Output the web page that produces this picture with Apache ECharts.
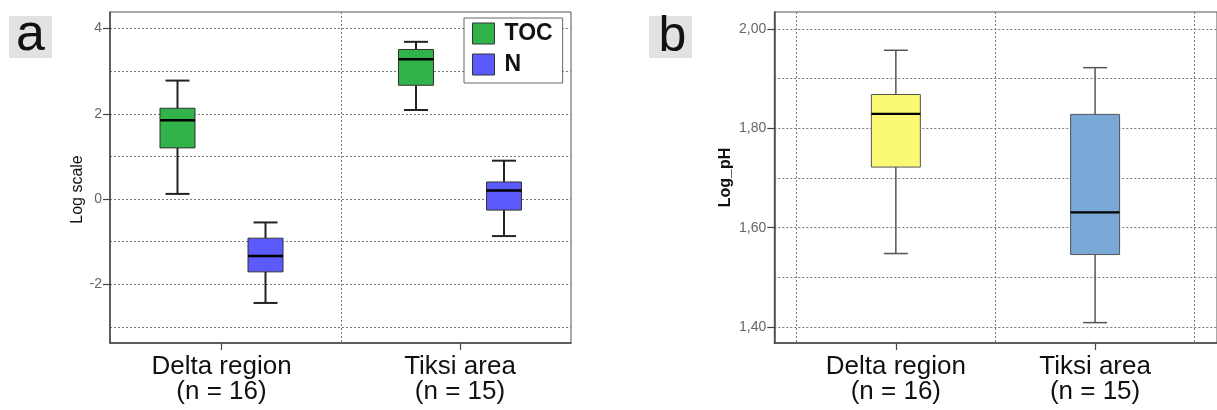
<!DOCTYPE html>
<html>
<head>
<meta charset="utf-8">
<script src="https://cdn.jsdelivr.net/npm/echarts@6/dist/echarts.min.js"></script>
<style>
  html, body { margin: 0; padding: 0; background: #fff; }
  #chart { width: 1217px; height: 410px; }
</style>
</head>
<body>
<div id="chart"></div>
<script>
// Sample groups shown on both panels
const regions = ['Delta region\n(n = 16)', 'Tiksi area\n(n = 15)'];

// Box statistics per region: [lower whisker, Q1, median, Q3, upper whisker]
const tocStats = [
  [0.12, 1.20, 1.85, 2.13, 2.78],
  [2.09, 2.67, 3.28, 3.51, 3.69]
];
const nStats = [
  [-2.44, -1.71, -1.34, -0.92, -0.55],
  [-0.87, -0.26, 0.20, 0.40, 0.90]
];
const phStats = [
  [1.548, 1.722, 1.829, 1.868, 1.957],
  [1.409, 1.546, 1.631, 1.828, 1.922]
];

// Axis ticks and grid lines
const scaleTicks = [-2, 0, 2, 4];
const scaleMinorLines = [-3, -1, 1, 3];
const phTicks = [1.4, 1.6, 1.8, 2.0];
const phMinorLines = [1.5, 1.7, 1.9];
const regionTicks = [1, 2];

const FONT = 'Liberation Sans, Arial, sans-serif';
const DOT = { color: '#7a7a7a', width: 1, type: [2, 2] };

const toRows = stats => stats.map((s, i) => [i + 1].concat(s));

// Draws one box-and-whisker glyph per data row
function boxRenderer(o) {
  return function (params, api) {
    const x = api.value(0) + o.offset;
    const pt = i => api.coord([x, api.value(i)]);
    const lo = pt(1), q1 = pt(2), med = pt(3), q3 = pt(4), hi = pt(5);
    const cx = lo[0], hw = o.boxWidth / 2, cw = o.capWidth / 2;
    const fill = o.colors ? o.colors[params.dataIndex] : api.visual('color');
    const ws = { stroke: o.whiskerColor, lineWidth: o.whiskerWidth };
    return {
      type: 'group',
      children: [
        { type: 'line', shape: { x1: cx, y1: hi[1], x2: cx, y2: q3[1] }, style: ws },
        { type: 'line', shape: { x1: cx, y1: q1[1], x2: cx, y2: lo[1] }, style: ws },
        { type: 'line', shape: { x1: cx - cw, y1: hi[1], x2: cx + cw, y2: hi[1] }, style: ws },
        { type: 'line', shape: { x1: cx - cw, y1: lo[1], x2: cx + cw, y2: lo[1] }, style: ws },
        { type: 'rect', shape: { x: cx - hw, y: q3[1], width: 2 * hw, height: q1[1] - q3[1] },
          style: { fill: fill, stroke: o.borderColor, lineWidth: 1 } },
        { type: 'line', shape: { x1: cx - hw, y1: med[1], x2: cx + hw, y2: med[1] },
          style: { stroke: '#000', lineWidth: o.medianWidth } }
      ]
    };
  };
}

function categoryAxis(gridIndex, min, max) {
  return {
    type: 'value', gridIndex, min, max, position: 'bottom',
    axisLine: { show: true, onZero: false, lineStyle: { color: '#444', width: 1.5 } },
    axisTick: { show: true, customValues: regionTicks, length: 7, lineStyle: { color: '#444', width: 1.2 } },
    axisLabel: {
      customValues: regionTicks, formatter: v => regions[Math.round(v) - 1],
      fontFamily: FONT, fontSize: 26, lineHeight: 25, color: '#111', margin: 11
    },
    splitLine: { show: false }
  };
}

function lineAxis(gridIndex, min, max, values, dim) {
  return {
    type: 'value', gridIndex, min, max, position: dim === 'x' ? 'bottom' : 'left',
    axisLine: { show: false, onZero: false },
    axisTick: { show: false, customValues: values },
    axisLabel: { show: false },
    splitLine: { show: true, lineStyle: DOT }
  };
}

function valueAxis(gridIndex, min, max, ticks, fmt, name, nameOpts) {
  return {
    type: 'value', gridIndex, min, max, position: 'left',
    name: name, nameLocation: 'middle', nameRotate: 90, nameGap: nameOpts.gap,
    nameTextStyle: Object.assign({ fontFamily: FONT, color: '#111' }, nameOpts.style),
    axisLine: { show: true, onZero: false, lineStyle: { color: '#444', width: 1.5 } },
    axisTick: { show: true, customValues: ticks, length: 7, lineStyle: { color: '#444', width: 1.2 } },
    axisLabel: { customValues: ticks, formatter: fmt, fontFamily: FONT, fontSize: 14, color: '#666', margin: 8 },
    splitLine: { show: true, lineStyle: DOT }
  };
}

const A = { xMin: 0.5325, xMax: 2.4654, yMin: -3.38, yMax: 4.39 };
const B = { xMin: 0.3898, xMax: 2.612, yMin: 1.368, yMax: 2.034 };

const chart = echarts.init(document.getElementById('chart'), null, { renderer: 'canvas' });

chart.setOption({
  backgroundColor: '#fff',
  animation: false,
  grid: [
    { left: 110, top: 12, width: 461, height: 331, show: true, borderColor: '#555', borderWidth: 1, backgroundColor: 'transparent' },
    { left: 774.3, top: 12, width: 446, height: 331, show: true, borderColor: '#555', borderWidth: 1, backgroundColor: 'transparent' }
  ],
  xAxis: [
    categoryAxis(0, A.xMin, A.xMax),
    lineAxis(0, A.xMin, A.xMax, [1.5], 'x'),
    categoryAxis(1, B.xMin, B.xMax),
    lineAxis(1, B.xMin, B.xMax, [0.5, 1.5, 2.5], 'x')
  ],
  yAxis: [
    valueAxis(0, A.yMin, A.yMax, scaleTicks, v => String(v), 'Log scale',
      { gap: 22, style: { fontSize: 16, padding: [0, 24, 0, 0] } }),
    lineAxis(0, A.yMin, A.yMax, scaleMinorLines, 'y'),
    valueAxis(1, B.yMin, B.yMax, phTicks, v => v.toFixed(2).replace('.', ','), 'Log_pH',
      { gap: 41, style: { fontSize: 16, fontWeight: 'bold' } }),
    lineAxis(1, B.yMin, B.yMax, phMinorLines, 'y')
  ],
  legend: {
    orient: 'vertical', left: 464, top: 18,
    padding: [4, 10, 7, 8], itemWidth: 22, itemHeight: 21, itemGap: 8,
    borderColor: '#666', borderWidth: 1, backgroundColor: '#fff', icon: 'rect',
    textStyle: { fontFamily: FONT, fontSize: 23, fontWeight: 'bold', color: '#111', lineHeight: 22, padding: [0, 0, 0, 5] },
    data: [
      { name: 'TOC', itemStyle: { color: '#31b34a', borderColor: '#333', borderWidth: 1 } },
      { name: 'N', itemStyle: { color: '#5a5afd', borderColor: '#333', borderWidth: 1 } }
    ]
  },
  series: [
    {
      name: 'TOC', type: 'custom', xAxisIndex: 0, yAxisIndex: 0,
      itemStyle: { color: '#31b34a' },
      encode: { x: 0, y: [1, 2, 3, 4, 5] },
      data: toRows(tocStats),
      renderItem: boxRenderer({ offset: -0.1845, boxWidth: 35, capWidth: 24, whiskerColor: '#222', whiskerWidth: 2, borderColor: '#333', medianWidth: 2.5 })
    },
    {
      name: 'N', type: 'custom', xAxisIndex: 0, yAxisIndex: 0,
      itemStyle: { color: '#5a5afd' },
      encode: { x: 0, y: [1, 2, 3, 4, 5] },
      data: toRows(nStats),
      renderItem: boxRenderer({ offset: 0.1845, boxWidth: 35, capWidth: 24, whiskerColor: '#222', whiskerWidth: 2, borderColor: '#333', medianWidth: 2.5 })
    },
    {
      name: 'Log_pH', type: 'custom', xAxisIndex: 2, yAxisIndex: 2,
      encode: { x: 0, y: [1, 2, 3, 4, 5] },
      data: toRows(phStats),
      renderItem: boxRenderer({ offset: 0, boxWidth: 49, capWidth: 24, colors: ['#fbf873', '#79a8d6'], whiskerColor: '#555', whiskerWidth: 1.5, borderColor: '#555', medianWidth: 2.2 })
    }
  ],
  graphic: [
    { type: 'rect', left: 9, top: 16, shape: { width: 43, height: 42 }, style: { fill: '#e2e2e2' } },
    { type: 'text', x: 30.5, y: 36, style: { text: 'a', fontFamily: FONT, fontSize: 52, fill: '#111', align: 'center', verticalAlign: 'middle' } },
    { type: 'rect', left: 649, top: 16, shape: { width: 43, height: 42 }, style: { fill: '#e2e2e2' } },
    { type: 'text', x: 672.5, y: 37, style: { text: 'b', fontFamily: FONT, fontSize: 50, fill: '#111', align: 'center', verticalAlign: 'middle' } }
  ]
});
</script>
</body>
</html>
